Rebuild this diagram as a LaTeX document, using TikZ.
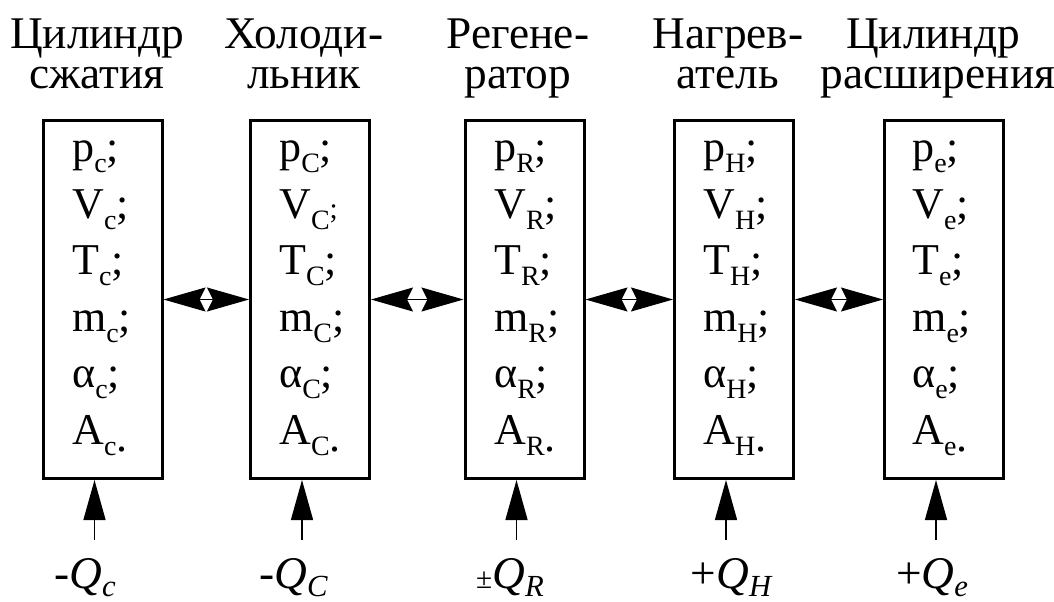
\documentclass[tikz,border=0pt]{standalone}
\usepackage{fontspec}
\setmainfont{LiberationSerif}[Extension=.ttf,UprightFont=*-Regular,ItalicFont=*-Italic,BoldFont=*-Bold,BoldItalicFont=*-BoldItalic]
\usetikzlibrary{arrows.meta}
\newcommand\sbs[1]{\raisebox{-8pt}{\fontsize{21}{21}\selectfont #1}}
\newcommand\isbs[1]{\raisebox{-6pt}{\fontsize{23}{23}\selectfont\itshape #1}}
\newcommand\lowdot{\raisebox{-5pt}{.}}
\tikzset{
  box/.style={draw, line width=2.25pt, minimum width=89.25pt, minimum height=268.5pt, inner sep=0pt},
  vals/.style={anchor=base west, inner sep=0pt, align=left, font=\fontsize{33}{42.4}\selectfont},
  ttl/.style={anchor=base, inner sep=0pt, font=\fontsize{34}{40}\selectfont},
  qlbl/.style={anchor=base, inner sep=0pt, font=\fontsize{34}{40}\selectfont\itshape},
  dbl/.style={line width=0.75pt, {Stealth[length=31.5pt,width=18pt,inset=4.5pt]}-{Stealth[length=31.5pt,width=18pt,inset=4.5pt]}},
  uparr/.style={line width=1.1pt, -{Triangle[length=30pt,width=16.5pt]}}
}
\begin{document}
\begin{tikzpicture}[x=0.75pt,y=-0.75pt]
\useasboundingbox (0,0) rectangle (1054,601);
% boxes
\node[box] (b1) at (102.5,299.5) {};
\node[box] (b2) at (310,299.5) {};
\node[box] (b3) at (524.5,299.5) {};
\node[box] (b4) at (734,299.5) {};
\node[box] (b5) at (944,299.5) {};
% values (base anchor = baseline of the last line)
\node[vals] (v1) at (72,444.5) {p\sbs{c};\\V\sbs{c};\\T\sbs{c};\\m\sbs{c};\\α\sbs{c};\\A\sbs{c}\lowdot};
\node[vals] (v2) at (279,444.5) {p\sbs{C};\\V\sbs{C}{\fontsize{22}{22}\selectfont;}\\T\sbs{C};\\m\sbs{C};\\α\sbs{C};\\A\sbs{C}\lowdot};
\node[vals] (v3) at (494,444.5) {p\sbs{R};\\V\sbs{R};\\T\sbs{R};\\m\sbs{R};\\α\sbs{R};\\A\sbs{R}\lowdot};
\node[vals] (v4) at (703,444.5) {p\sbs{H};\\V\sbs{H};\\T\sbs{H};\\m\sbs{H};\\α\sbs{H};\\A\sbs{H}\lowdot};
\node[vals] (v5) at (912,444.5) {p\sbs{e};\\V\sbs{e};\\T\sbs{e};\\m\sbs{e};\\α\sbs{e};\\A\sbs{e}\lowdot};
% titles
\node[ttl] (t1a) at (97,48) {Цилиндр};
\node[ttl] (t1b) at (97,88) {сжатия};
\node[ttl] (t2a) at (304,48) {Холоди-};
\node[ttl] (t2b) at (304,88) {льник};
\node[ttl] (t3a) at (518,48) {Регене-};
\node[ttl] (t3b) at (518,88) {ратор};
\node[ttl] (t4a) at (728,48) {Нагрев-};
\node[ttl] (t4b) at (728,88) {атель};
\node[ttl] (t5a) at (933,48) {Цилиндр};
\node[ttl] (t5b) at (938,88) {расширения};
% connectors between boxes
\draw[dbl] (b1.east) -- (b2.west);
\draw[dbl] (b2.east) -- (b3.west);
\draw[dbl] (b3.east) -- (b4.west);
\draw[dbl] (b4.east) -- (b5.west);
% heat inputs
\coordinate (s1) at (94.5,540);
\coordinate (s2) at (302,540);
\coordinate (s3) at (516.5,540);
\coordinate (s4) at (726,540);
\coordinate (s5) at (936,540);
\draw[uparr] (s1) -- (s1 |- b1.south);
\draw[uparr] (s2) -- (s2 |- b2.south);
\draw[uparr] (s3) -- (s3 |- b3.south);
\draw[uparr] (s4) -- (s4 |- b4.south);
\draw[uparr] (s5) -- (s5 |- b5.south);
\node[qlbl] (q1) at (85,588) {-Q\isbs{c}};
\node[qlbl] (q2) at (293.5,588) {-Q\isbs{C}};
\node[qlbl] (q3) at (510,588) {{\fontsize{22}{22}\selectfont\upshape ±}Q\isbs{R}};
\node[qlbl] (q4) at (731,588) {\upshape+\itshape Q\isbs{H}};
\node[qlbl] (q5) at (932,588) {\upshape+\itshape Q\isbs{e}};
\end{tikzpicture}
\end{document}
